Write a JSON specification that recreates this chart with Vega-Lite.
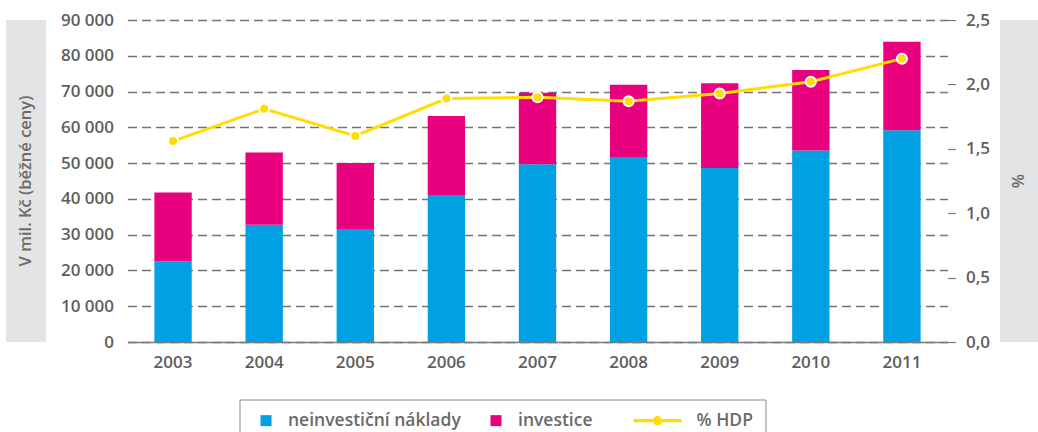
{
  "$schema": "https://vega.github.io/schema/vega-lite/v6.json",
  "padding": {"left": 6, "top": 11, "right": 0, "bottom": 0},
  "background": "white",
  "datasets": {
    "naklady": [
      {"rok": "2003", "kategorie": "neinvestiční náklady", "hodnota": 22600},
      {"rok": "2003", "kategorie": "investice", "hodnota": 19200},
      {"rok": "2004", "kategorie": "neinvestiční náklady", "hodnota": 32800},
      {"rok": "2004", "kategorie": "investice", "hodnota": 20200},
      {"rok": "2005", "kategorie": "neinvestiční náklady", "hodnota": 31600},
      {"rok": "2005", "kategorie": "investice", "hodnota": 18400},
      {"rok": "2006", "kategorie": "neinvestiční náklady", "hodnota": 41100},
      {"rok": "2006", "kategorie": "investice", "hodnota": 22100},
      {"rok": "2007", "kategorie": "neinvestiční náklady", "hodnota": 49700},
      {"rok": "2007", "kategorie": "investice", "hodnota": 20000},
      {"rok": "2008", "kategorie": "neinvestiční náklady", "hodnota": 51700},
      {"rok": "2008", "kategorie": "investice", "hodnota": 20200},
      {"rok": "2009", "kategorie": "neinvestiční náklady", "hodnota": 48600},
      {"rok": "2009", "kategorie": "investice", "hodnota": 23700},
      {"rok": "2010", "kategorie": "neinvestiční náklady", "hodnota": 53500},
      {"rok": "2010", "kategorie": "investice", "hodnota": 22500},
      {"rok": "2011", "kategorie": "neinvestiční náklady", "hodnota": 59200},
      {"rok": "2011", "kategorie": "investice", "hodnota": 24700}
    ],
    "hdp": [
      {"rok": "2003", "podil": 1.56},
      {"rok": "2004", "podil": 1.81},
      {"rok": "2005", "podil": 1.60},
      {"rok": "2006", "podil": 1.89},
      {"rok": "2007", "podil": 1.90},
      {"rok": "2008", "podil": 1.87},
      {"rok": "2009", "podil": 1.93},
      {"rok": "2010", "podil": 2.02},
      {"rok": "2011", "podil": 2.20}
    ],
    "titulL": [{"t": "V mil. Kč (běžné ceny)"}],
    "titulR": [{"t": "%"}]
  },
  "bounds": "flush",
  "spacing": 81.5,
  "resolve": {"scale": {"color": "independent"}, "legend": {"color": "independent"}},
  "hconcat": [
    {
      "width": 40,
      "height": 322,
      "view": {"fill": "#e3e4e5", "stroke": null},
      "data": {"name": "titulL"},
      "mark": {"type": "text", "angle": 270, "fontSize": 16.5, "fontWeight": 600, "color": "#6b6b6b", "font": "Open Sans"},
      "encoding": {"text": {"field": "t"}}
    },
    {
      "bounds": "flush",
      "spacing": 52.5,
      "resolve": {"scale": {"color": "independent"}, "legend": {"color": "independent"}},
      "hconcat": [
        {
          "width": 820,
          "height": 322,
          "layer": [
            {
              "data": {"name": "naklady"},
              "mark": {"type": "bar"},
              "encoding": {
                "x": {
                  "field": "rok", "type": "ordinal",
                  "scale": {"paddingInner": 0.59, "paddingOuter": 0.295},
                  "axis": {"title": null, "labelAngle": 0, "ticks": false, "domain": true, "domainColor": "#7a7a7a", "domainWidth": 1.5, "labelPadding": 12, "grid": false}
                },
                "y": {
                  "field": "hodnota", "type": "quantitative", "stack": "zero",
                  "scale": {"domain": [0, 90000], "nice": false},
                  "axis": {
                    "title": null,
                    "values": [0, 10000, 20000, 30000, 40000, 50000, 60000, 70000, 80000, 90000],
                    "labelExpr": "replace(format(datum.value, ',d'), ',', ' ')",
                    "ticks": false, "domain": false, "grid": true,
                    "gridDash": [9, 5], "gridColor": "#737373", "gridWidth": 1.3,
                    "labelPadding": 14
                  }
                },
                "color": {
                  "field": "kategorie", "type": "nominal",
                  "scale": {"domain": ["neinvestiční náklady", "investice", "% HDP"], "range": ["#00a0e3", "#e8007f", "#ffdd00"]},
                  "legend": {
                    "orient": "none", "legendX": 112, "legendY": 379.5,
                    "direction": "horizontal", "title": null,
                    "strokeColor": "#8a8a8a", "padding": 12, "columnPadding": 20,
                    "labelFontSize": 17.5, "labelFont": "Open Sans", "labelFontWeight": 600, "labelColor": "#6a6a6a",
                    "labelLimit": 400,
                    "symbolSize": 121, "symbolType": "square",
                    "encode": {
                      "symbols": {"update": {
                        "shape": {"signal": "datum.value === '% HDP' ? 'M-1,-0.065H1V0.065H-1Z M0.19,0A0.19,0.19,0,1,1,-0.19,0A0.19,0.19,0,1,1,0.19,0Z' : 'square'"},
                        "size": {"signal": "datum.value === '% HDP' ? 2304 : 121"},
                        "x": {"signal": "datum.value === '% HDP' ? 44 : 14.5"},
                        "fill": {"signal": "datum.value === 'investice' ? '#e8007f' : (datum.value === '% HDP' ? '#ffdd00' : '#00a0e3')"},
                        "stroke": {"value": "transparent"},
                        "strokeWidth": {"value": 0},
                        "opacity": {"value": 1}
                      }},
                      "labels": {"update": {
                        "x": {"signal": "datum.value === '% HDP' ? 83 : 36.5"}
                      }}
                    }
                  }
                },
                "order": {"field": "kategorie", "sort": "descending"}
              }
            },
            {
              "data": {"name": "hdp"},
              "mark": {"type": "line", "strokeWidth": 3, "point": {"filled": true, "size": 100, "stroke": "white", "strokeWidth": 2, "opacity": 1}},
              "encoding": {
                "x": {"field": "rok", "type": "ordinal"},
                "y": {
                  "field": "podil", "type": "quantitative",
                  "scale": {"domain": [0, 2.5], "nice": false},
                  "axis": {
                    "title": null, "orient": "right",
                    "values": [0, 0.5, 1, 1.5, 2, 2.5],
                    "labelExpr": "replace(format(datum.value, '.1f'), '.', ',')",
                    "ticks": true, "tickSize": 8, "tickColor": "#7a7a7a", "tickWidth": 1.2,
                    "domain": false, "grid": false, "labelPadding": 10
                  }
                },
                "color": {"datum": "% HDP"}
              }
            }
          ],
          "resolve": {"scale": {"y": "independent"}}
        },
        {
          "width": 38,
          "height": 322,
          "view": {"fill": "#e3e4e5", "stroke": null},
          "data": {"name": "titulR"},
          "mark": {"type": "text", "angle": 270, "fontSize": 16.5, "fontWeight": 600, "color": "#6b6b6b", "font": "Open Sans"},
          "encoding": {"text": {"field": "t"}}
        }
      ]
    }
  ],
  "config": {
    "font": "Open Sans",
    "view": {"stroke": null},
    "axis": {"labelFont": "Open Sans", "labelFontSize": 17, "labelFontWeight": 600, "labelColor": "#5e5e5e"}
  }
}
